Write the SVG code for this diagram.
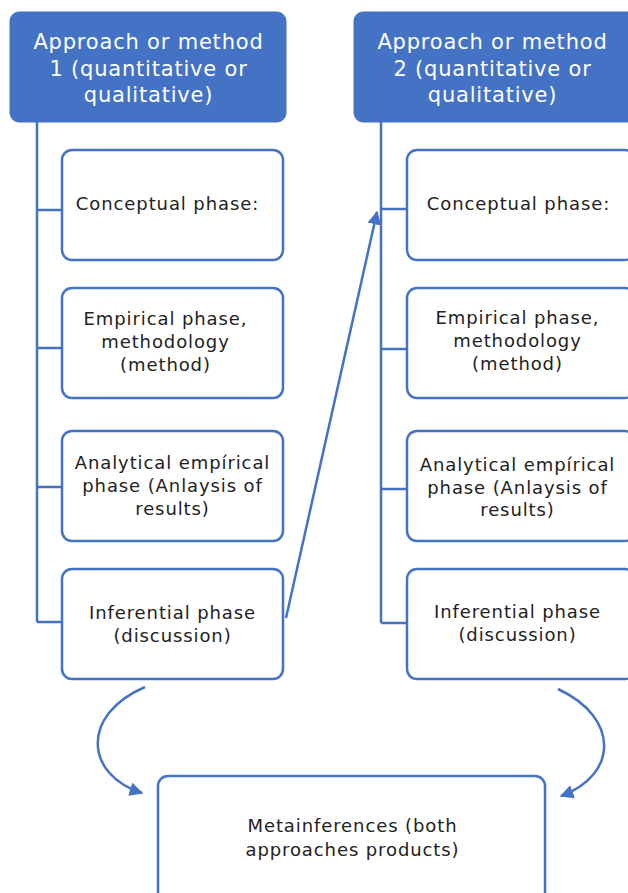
<svg xmlns="http://www.w3.org/2000/svg" width="628" height="893" viewBox="0 0 628 893">
<defs>
<style>
.hdr{fill:#4472C4;stroke:#4472C4;stroke-width:1}
.box{fill:#ffffff;stroke:#4472C4;stroke-width:2.5}
.ln{fill:none;stroke:#4472C4;stroke-width:2.5}
.ht{font-family:"DejaVu Sans",Verdana,sans-serif;font-size:21px;letter-spacing:0.8px;fill:#ffffff;text-anchor:middle}
.bt{font-family:"DejaVu Sans",Verdana,sans-serif;font-size:18px;letter-spacing:0.9px;fill:#222222;text-anchor:middle}
</style>
<marker id="ah" viewBox="0 0 10 10" refX="9" refY="5" markerWidth="5.5" markerHeight="5.5" markerUnits="strokeWidth" orient="auto">
<path d="M0,0 L10,5 L0,10 z" fill="#4472C4"/>
</marker>
</defs>
<rect width="628" height="893" fill="#ffffff"/>
<g id="connectors">
<path class="ln" d="M37,122 V622 M37,210 H62 M37,348 H62 M37,487 H62 M37,622 H62"/>
<path class="ln" d="M381,122 V623 M381,209 H407 M381,349 H407 M381,489 H407 M381,623 H407"/>
<path class="ln" d="M286,618 L377,212" marker-end="url(#ah)"/>
<path class="ln" d="M145,687 C80,715 85,775 142,793" marker-end="url(#ah)"/>
<path class="ln" d="M558,689 C620,718 618,775 561,796" marker-end="url(#ah)"/>
</g>
<g id="header1">
<rect class="hdr" x="10" y="12" width="276" height="110" rx="9"/>
<text class="ht" x="148.5" y="49">Approach or method</text>
<text class="ht" x="148.5" y="76">1 (quantitative or</text>
<text class="ht" x="148.5" y="102">qualitative)</text>
</g>
<g id="header2">
<rect class="hdr" x="354" y="12" width="284" height="110" rx="9"/>
<text class="ht" x="492.5" y="49">Approach or method</text>
<text class="ht" x="492.5" y="76">2 (quantitative or</text>
<text class="ht" x="492.5" y="102">qualitative)</text>
</g>
<g id="l-conceptual">
<rect class="box" x="62" y="150" width="221" height="110" rx="10"/>
<text class="bt" x="167.5" y="210">Conceptual phase:</text>
</g>
<g id="l-empirical">
<rect class="box" x="62" y="288" width="221" height="110" rx="10"/>
<text class="bt" x="165.5" y="325">Empirical phase,</text>
<text class="bt" x="165.5" y="348">methodology</text>
<text class="bt" x="165.5" y="371">(method)</text>
</g>
<g id="l-analytical">
<rect class="box" x="62" y="431" width="221" height="110" rx="10"/>
<text class="bt" x="172.5" y="469">Analytical empírical</text>
<text class="bt" x="172.5" y="492">phase (Anlaysis of</text>
<text class="bt" x="172.5" y="515">results)</text>
</g>
<g id="l-inferential">
<rect class="box" x="62" y="569" width="221" height="110" rx="10"/>
<text class="bt" x="172.5" y="619">Inferential phase</text>
<text class="bt" x="172.5" y="642">(discussion)</text>
</g>
<g id="r-conceptual">
<rect class="box" x="407" y="150" width="228" height="110" rx="10"/>
<text class="bt" x="518.5" y="210">Conceptual phase:</text>
</g>
<g id="r-empirical">
<rect class="box" x="407" y="288" width="228" height="110" rx="10"/>
<text class="bt" x="517.5" y="324">Empirical phase,</text>
<text class="bt" x="517.5" y="347">methodology</text>
<text class="bt" x="517.5" y="370">(method)</text>
</g>
<g id="r-analytical">
<rect class="box" x="407" y="431" width="228" height="110" rx="10"/>
<text class="bt" x="517.5" y="471">Analytical empírical</text>
<text class="bt" x="517.5" y="494">phase (Anlaysis of</text>
<text class="bt" x="517.5" y="516">results)</text>
</g>
<g id="r-inferential">
<rect class="box" x="407" y="569" width="228" height="110" rx="10"/>
<text class="bt" x="517.5" y="618">Inferential phase</text>
<text class="bt" x="517.5" y="641">(discussion)</text>
</g>
<g id="metainferences">
<rect class="box" x="158" y="776" width="387" height="130" rx="10"/>
<text class="bt" x="352.5" y="832">Metainferences (both</text>
<text class="bt" x="352.5" y="856">approaches products)</text>
</g>
</svg>
